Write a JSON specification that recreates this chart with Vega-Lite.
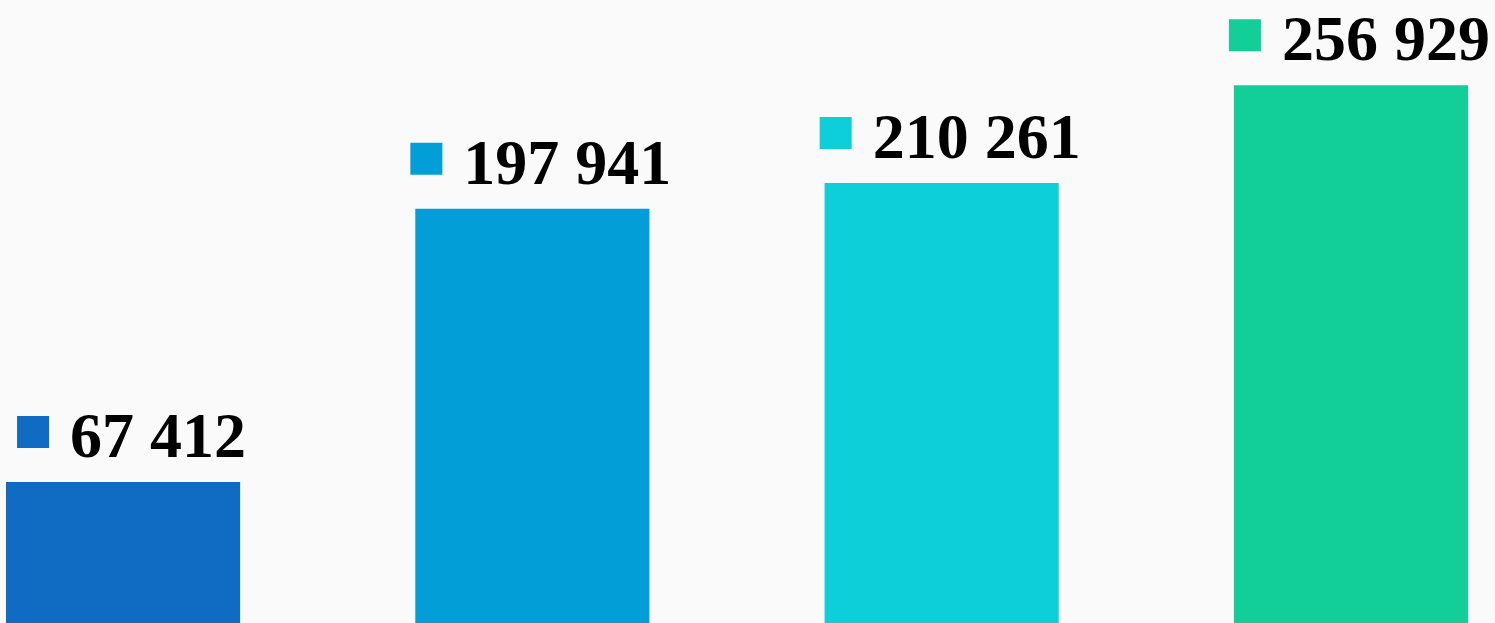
{
  "$schema": "https://vega.github.io/schema/vega-lite/v6.json",
  "width": 1462,
  "height": 623,
  "autosize": {"type": "none"},
  "padding": {"left": 6, "right": 27, "top": 0, "bottom": 0},
  "background": "#fafafa",
  "config": {"view": {"stroke": null}},
  "data": {
    "values": [
      {"category": "Bar 1", "value": 67412, "label": "67 412"},
      {"category": "Bar 2", "value": 197941, "label": "197 941"},
      {"category": "Bar 3", "value": 210261, "label": "210 261"},
      {"category": "Bar 4", "value": 256929, "label": "256 929"}
    ]
  },
  "encoding": {
    "x": {
      "field": "category",
      "type": "nominal",
      "sort": null,
      "scale": {"paddingInner": 0.428, "paddingOuter": 0},
      "axis": null
    },
    "y": {
      "field": "value",
      "type": "quantitative",
      "scale": {"domain": [0, 297650], "nice": false},
      "axis": null
    },
    "color": {
      "field": "category",
      "type": "nominal",
      "scale": {
        "domain": ["Bar 1", "Bar 2", "Bar 3", "Bar 4"],
        "range": ["#106CC2", "#029ED8", "#0DCFDA", "#12CF9A"]
      },
      "legend": null
    }
  },
  "layer": [
    {"mark": {"type": "bar"}},
    {
      "mark": {
        "type": "square",
        "size": 1024,
        "opacity": 1,
        "filled": true,
        "yOffset": -50,
        "xOffset": {"expr": "length(datum.label) > 6 ? -106 : -90"}
      }
    },
    {
      "mark": {
        "type": "text",
        "font": "Liberation Serif",
        "fontWeight": "bold",
        "fontSize": 64,
        "align": "center",
        "baseline": "alphabetic",
        "dx": 35,
        "dy": -25
      },
      "encoding": {
        "text": {"field": "label"},
        "color": {"value": "#000000"}
      }
    }
  ]
}
